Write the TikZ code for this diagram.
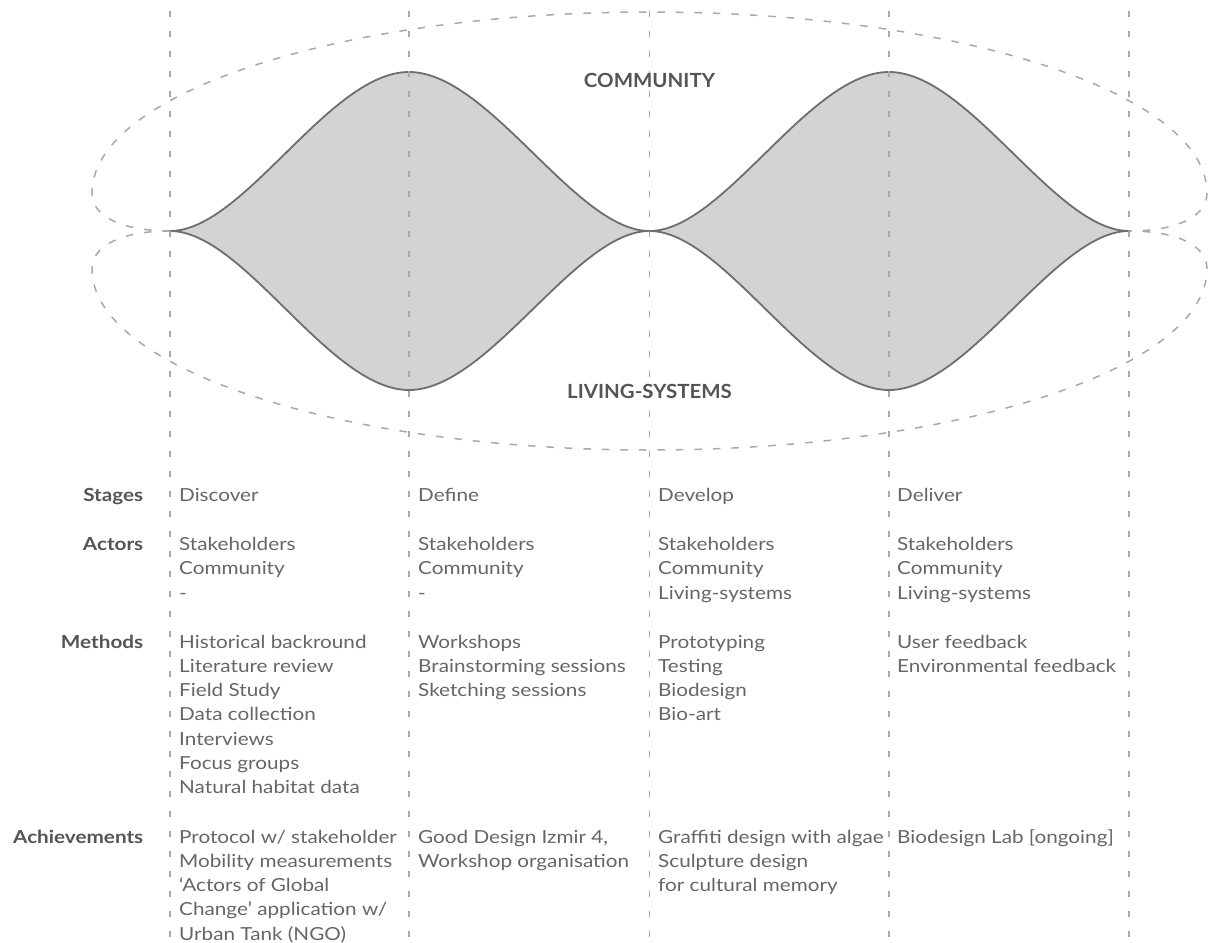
\documentclass[tikz,border=0pt]{standalone}
\usepackage{fontspec}
\setmainfont{Lato}
\newfontfamily\bodyfont[FakeStretch=1.15]{Lato}
\newfontfamily\zonefont[FakeStretch=1.05]{Lato}
\definecolor{guidegray}{HTML}{A9A9A9}
\definecolor{blobfill}{HTML}{D1D3D4}
\definecolor{blobline}{HTML}{6D6E71}
\definecolor{bodygray}{HTML}{666666}
\definecolor{labelgray}{HTML}{555555}
% a left-aligned stack of lines whose baseline is that of its first line
\newcommand\cellstack[1]{\begin{tabular}[t]{@{}l@{}}#1\end{tabular}}
\begin{document}
\begin{tikzpicture}[x=1pt,y=-1pt,
  guide/.style={draw=guidegray, line width=1.3pt, dash pattern=on 6pt off 14pt},
  ring/.style={draw=guidegray, line width=1.5pt, dash pattern=on 7.5pt off 11pt},
  blob/.style={fill=blobfill, draw=blobline, line width=1.8pt, line join=round},
  cell/.style={anchor=base west, inner sep=0pt, text=bodygray,
    font=\bodyfont\fontsize{18}{24.3}\selectfont},
  rowlabel/.style={anchor=base east, inner sep=0pt, text=labelgray,
    font=\bodyfont\fontsize{18}{24.3}\selectfont\bfseries},
  zone/.style={inner sep=0pt, text=labelgray, font=\zonefont\fontsize{19.5}{20}\selectfont\bfseries}]

\fill[white] (0,0) rectangle (1211,943);
\useasboundingbox (0,0) rectangle (1211,943);

% key points of the lens shape
\coordinate (tipL) at (170,231);
\coordinate (peakA) at (409,72);
\coordinate (tipM) at (649.5,231);
\coordinate (peakB) at (889,72);
\coordinate (tipR) at (1129,231);
\coordinate (lowA) at (409,390);
\coordinate (lowB) at (889,390);

% the double lens
\path[blob] (tipL) .. controls +(74,0) and +(-80,0) .. (peakA)
  .. controls +(80,0) and +(-74,0) .. (tipM)
  .. controls +(74,0) and +(-80,0) .. (peakB)
  .. controls +(80,0) and +(-74,0) .. (tipR)
  .. controls +(-74,0) and +(80,0) .. (lowB)
  .. controls +(-80,0) and +(74,0) .. (tipM)
  .. controls +(-74,0) and +(80,0) .. (lowA)
  .. controls +(-80,0) and +(74,0) .. (tipL) -- cycle;

% stage separators
\foreach \i/\x in {1/170,2/409,3/649.5,4/889,5/1129}{
  \coordinate (top\i) at (\x,11);
  \coordinate (bot\i) at (\x,943);
  \draw[guide] (top\i) -- (bot\i);
}

% outer dashed loops
\coordinate (upW) at (92,193);
\coordinate (upN) at (649.5,12);
\coordinate (upE) at (1207,193);
\coordinate (loW) at (92,269);
\coordinate (loS) at (649.5,450);
\coordinate (loE) at (1207,269);
\draw[ring] (tipL) .. controls +(-45,0) and +(0,25) .. (upW)
  .. controls +(0,-100) and +(-307,0) .. (upN)
  .. controls +(307,0) and +(0,-100) .. (upE)
  .. controls +(0,25) and +(45,0) .. (tipR);
\draw[ring] (tipL) .. controls +(-45,0) and +(0,-25) .. (loW)
  .. controls +(0,100) and +(-307,0) .. (loS)
  .. controls +(307,0) and +(0,100) .. (loE)
  .. controls +(0,-25) and +(45,0) .. (tipR);

\node[zone] (community) at (649.5,80.3) {COMMUNITY};
\node[zone] (living) at (649.5,391.7) {LIVING-SYSTEMS};

% row labels
\node[rowlabel] (lstages) at (143.5,501.5) {Stages};
\node[rowlabel] (lactors) at (143.5,550.5) {Actors};
\node[rowlabel] (lmethods) at (143.5,648) {Methods};
\node[rowlabel] (lachieve) at (143.5,843) {Achievements};

% stage columns
\node[cell] (s1) at (179,501.5) {Discover};
\node[cell] (s2) at (418,501.5) {Define};
\node[cell] (s3) at (658,501.5) {Develop};
\node[cell] (s4) at (897,501.5) {Deliver};

\node[cell] (a1) at (179,550.5) {\cellstack{Stakeholders\\Community\\-}};
\node[cell] (a2) at (418,550.5) {\cellstack{Stakeholders\\Community\\-}};
\node[cell] (a3) at (658,550.5) {\cellstack{Stakeholders\\Community\\Living-systems}};
\node[cell] (a4) at (897,550.5) {\cellstack{Stakeholders\\Community\\Living-systems}};

\node[cell] (m1) at (179,648) {\cellstack{Historical backround\\Literature review\\Field Study\\Data collection\\Interviews\\Focus groups\\Natural habitat data}};
\node[cell] (m2) at (418,648) {\cellstack{Workshops\\Brainstorming sessions\\Sketching sessions}};
\node[cell] (m3) at (658,648) {\cellstack{Prototyping\\Testing\\Biodesign\\Bio-art}};
\node[cell] (m4) at (897,648) {\cellstack{User feedback\\Environmental feedback}};

\node[cell] (c1) at (179,843) {\cellstack{Protocol w/ stakeholder\\Mobility measurements\\‘Actors of Global\\Change’ application w/\\Urban Tank (NGO)}};
\node[cell] (c2) at (418,843) {\cellstack{Good Design Izmir 4,\\Workshop organisation}};
\node[cell] (c3) at (658,843) {\cellstack{Graffiti design with algae\\Sculpture design\\for cultural memory}};
\node[cell] (c4) at (897,843) {\cellstack{Biodesign Lab [ongoing]}};
\end{tikzpicture}
\end{document}
